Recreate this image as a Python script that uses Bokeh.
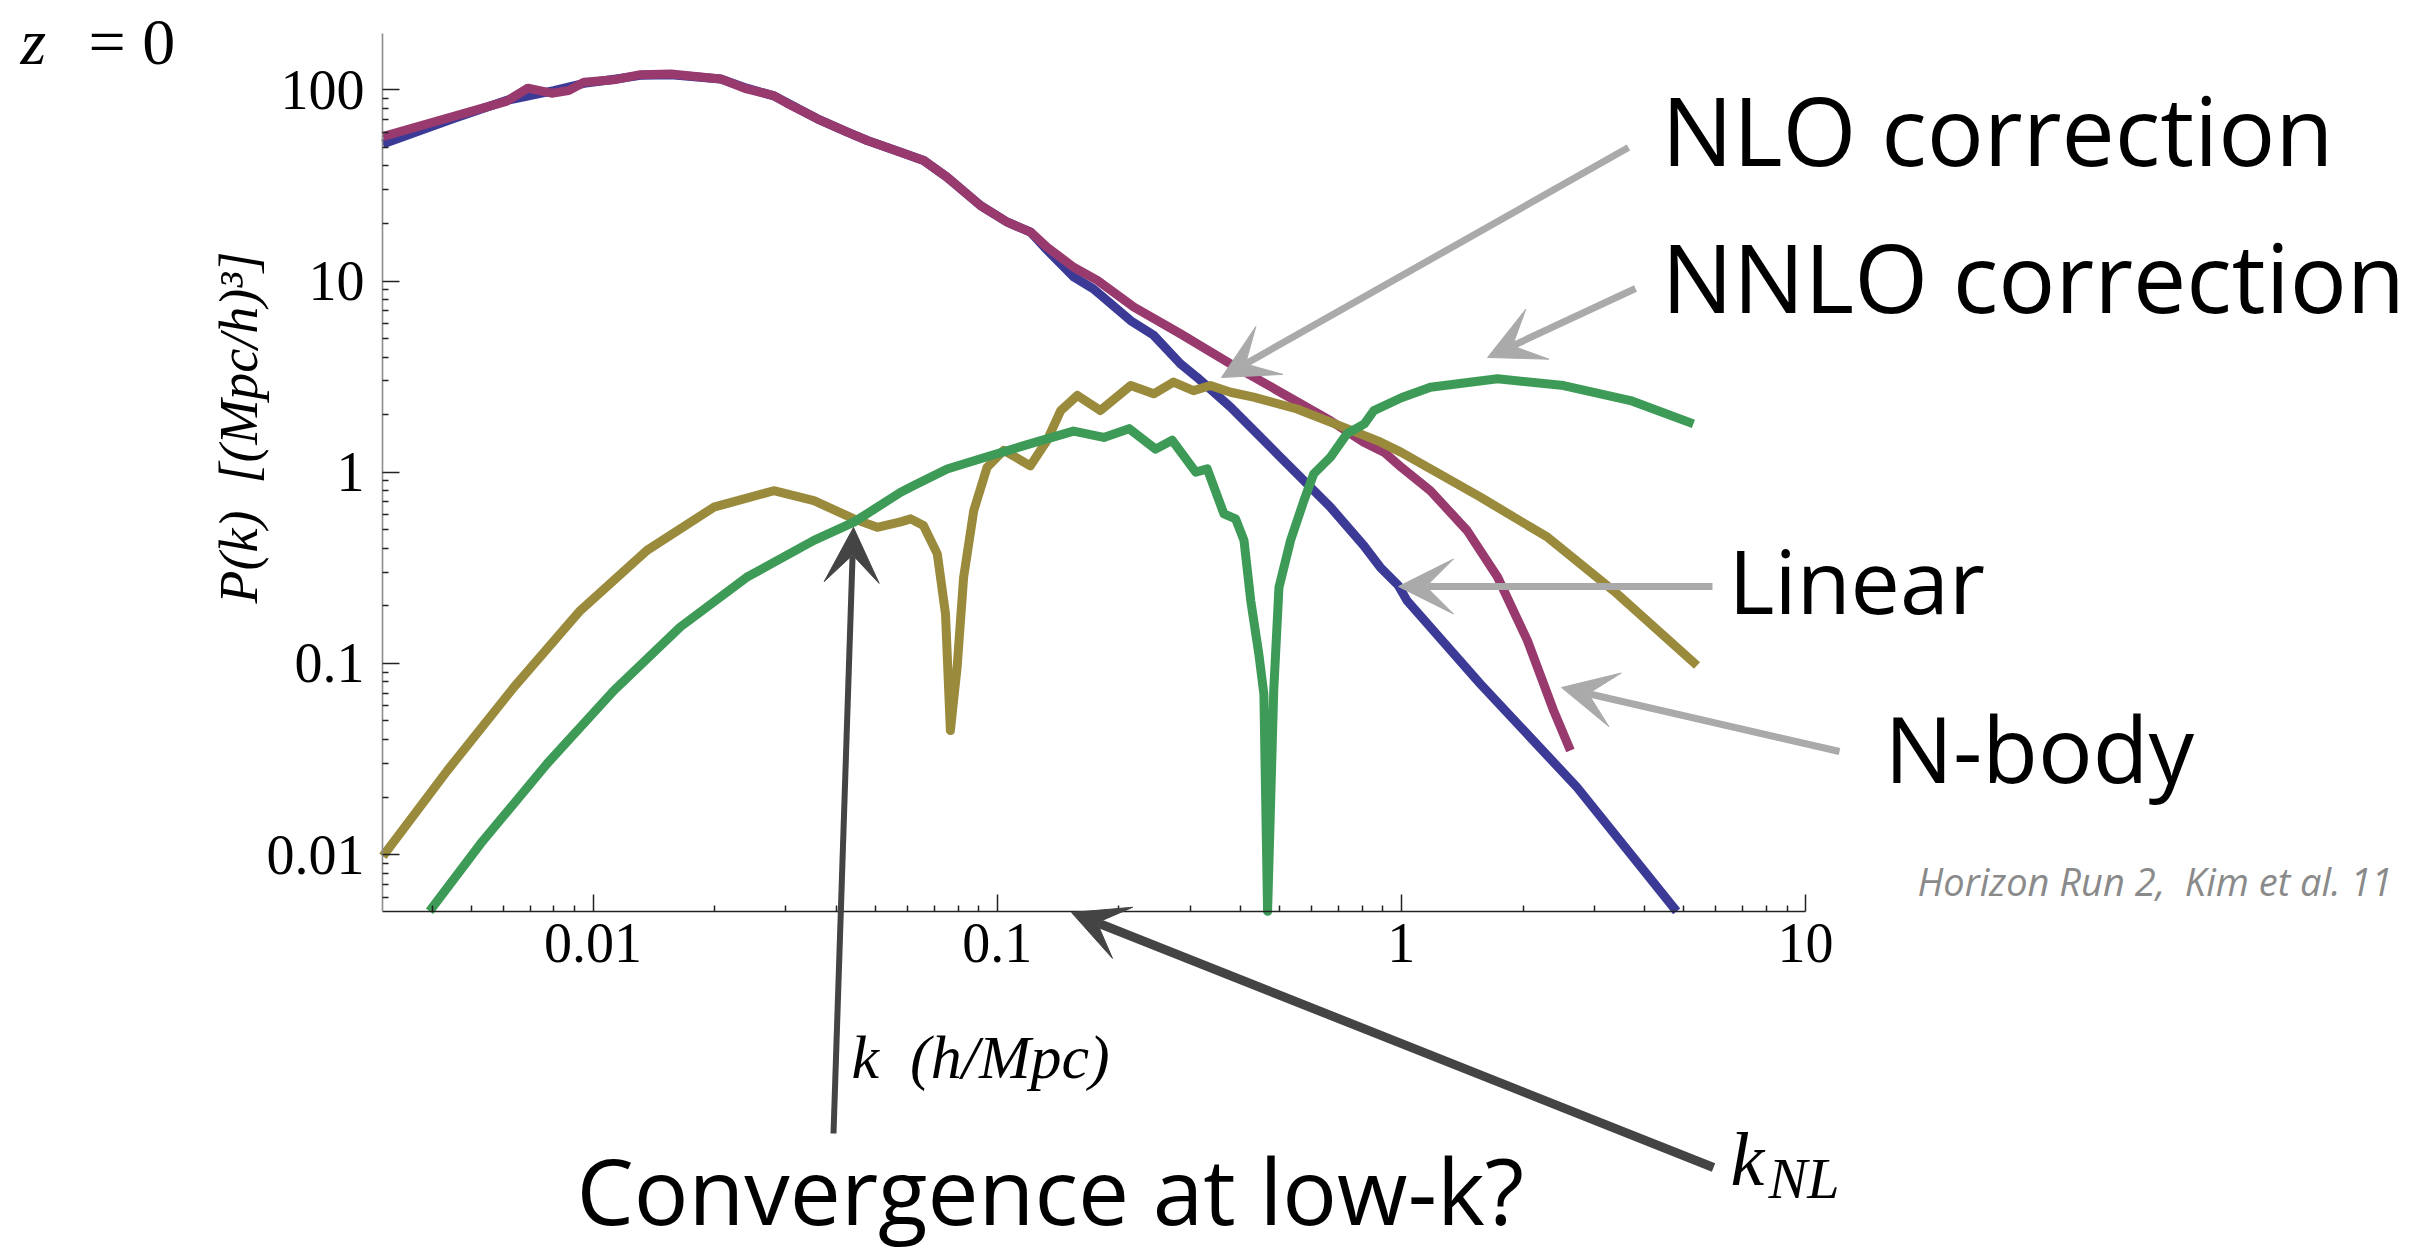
import math

from bokeh.plotting import figure
from bokeh.models import Range1d, FixedTicker, CustomJSTickFormatter, Label, Arrow, VeeHead
from bokeh.embed import file_html
from bokeh.resources import INLINE

# ---- power spectra at z = 0: k in h/Mpc, P(k) in (Mpc/h)^3 ----
k_linear = [0.00302, 0.0045, 0.0061, 0.0080, 0.0095, 0.0113, 0.0131, 0.0156, 0.0207, 0.024,
            0.028, 0.0359, 0.0426, 0.0477, 0.0577, 0.0658, 0.0752, 0.091, 0.106, 0.121,
            0.133, 0.1546, 0.173, 0.214, 0.244, 0.284, 0.312, 0.378, 0.502, 0.668,
            0.807, 0.887, 0.984, 1.033, 1.569, 2.72, 4.80]
p_linear = [52, 70.5, 88, 99, 108, 113.5, 119, 120, 114, 102,
            93, 70.5, 60, 54.3, 47.2, 42.7, 34.9, 24.8, 20.3, 18.0,
            14.5, 10.5, 9.1, 6.2, 5.2, 3.69, 3.14, 2.19, 1.20, 0.656,
            0.414, 0.318, 0.255, 0.213, 0.078, 0.0225, 0.00505]

k_nbody = [0.00302, 0.0061, 0.0069, 0.0079, 0.0087, 0.0095, 0.01125, 0.0131, 0.0156, 0.0207,
           0.024, 0.028, 0.0302, 0.0359, 0.0426, 0.0477, 0.0577, 0.0658, 0.0752, 0.091,
           0.106, 0.121, 0.133, 0.1546, 0.177, 0.218, 0.284, 0.378, 0.502, 0.668,
           0.807, 0.908, 1.0, 1.18, 1.455, 1.73, 2.05, 2.38, 2.62]
p_nbody = [57, 87, 102, 96, 99, 109.6, 112.8, 120, 121, 114,
           101, 93.3, 85.1, 70.5, 60, 54.3, 47.2, 42.7, 34.9, 24.8,
           20.3, 18.0, 15.0, 11.8, 10.07, 7.3, 5.3, 3.69, 2.62, 1.86,
           1.435, 1.27, 1.06, 0.80, 0.495, 0.283, 0.132, 0.0568, 0.035]

k_nlo = [0.00302, 0.00436, 0.00637, 0.0093, 0.0136, 0.0199, 0.028, 0.0352, 0.0442, 0.0505,
         0.0577, 0.0611, 0.0657, 0.0711, 0.0745, 0.0766, 0.0796, 0.0826, 0.0875, 0.0944,
         0.1038, 0.1208, 0.133, 0.1436, 0.158, 0.180, 0.214, 0.244, 0.273, 0.306,
         0.337, 0.378, 0.431, 0.552, 0.734, 0.887, 1.0, 1.57, 2.30, 3.35, 5.39]
p_nlo = [0.0098, 0.0275, 0.075, 0.189, 0.39, 0.656, 0.80, 0.71, 0.57, 0.515,
         0.55, 0.57, 0.526, 0.374, 0.1815, 0.0446, 0.0955, 0.282, 0.63, 1.06,
         1.30, 1.08, 1.47, 2.10, 2.52, 2.10, 2.84, 2.57, 2.96, 2.67,
         2.84, 2.62, 2.47, 2.14, 1.69, 1.44, 1.27, 0.74, 0.457, 0.240, 0.0975]

k_nnlo = [0.00394, 0.00527, 0.0077, 0.01125, 0.01644, 0.024, 0.0352, 0.0442, 0.0577, 0.0622,
          0.0752, 0.0962, 0.121, 0.1545, 0.1835, 0.212, 0.2466, 0.271, 0.31, 0.331,
          0.364, 0.389, 0.408, 0.424, 0.444, 0.457, 0.4667, 0.4834, 0.498, 0.532,
          0.574, 0.607, 0.668, 0.734, 0.81, 0.855, 1.0, 1.18, 1.73, 2.52, 3.69, 5.28]
p_nnlo = [0.00505, 0.0114, 0.0299, 0.072, 0.155, 0.282, 0.44, 0.548, 0.785, 0.851,
          1.04, 1.22, 1.41, 1.64, 1.52, 1.69, 1.32, 1.47, 1.0, 1.04,
          0.605, 0.57, 0.44, 0.213, 0.112, 0.069, 0.00505, 0.0724, 0.25, 0.44,
          0.71, 0.98, 1.20, 1.59, 1.79, 2.10, 2.45, 2.78, 3.08, 2.84, 2.37, 1.79]

x_ticks = [0.01, 0.1, 1, 10]
y_ticks = [0.01, 0.1, 1, 10, 100]

BLUE, PURPLE, OLIVE, GREEN = "#3c3a97", "#993a6e", "#9a8a3c", "#3d9b57"
LIGHT_ARROW, DARK_ARROW = "#aaaaaa", "#444444"

# ---- page geometry: the axes box inside a full-page frame ----
W, H = 2430, 1259
AX_L, AX_R, AX_T, AX_B = 382, 1805, 33, 911
K_MIN, K_MAX = 0.003014, 10.0
P_MIN, P_MAX = 0.00504, 197.0

LX0, LX1 = math.log10(K_MIN), math.log10(K_MAX)
LY0, LY1 = math.log10(P_MIN), math.log10(P_MAX)

# minor ticks at 2..9 x each decade, kept inside the drawn axis span
x_minor = [m * 10.0 ** e for e in range(-3, 1) for m in range(2, 10)
           if K_MIN <= m * 10.0 ** e <= K_MAX]
y_minor = [m * 10.0 ** e for e in range(-3, 3) for m in range(2, 10)
           if P_MIN <= m * 10.0 ** e <= P_MAX]


def kx(px):
    """page pixel column -> k"""
    return 10 ** (LX0 + (px - AX_L) / (AX_R - AX_L) * (LX1 - LX0))


def py(px):
    """page pixel row -> P"""
    return 10 ** (LY1 - (px - AX_T) / (AX_B - AX_T) * (LY1 - LY0))


p = figure(width=W, height=H, x_axis_type="log", y_axis_type="log",
           x_range=Range1d(kx(0), kx(W)), y_range=Range1d(py(H), py(0)),
           output_backend="svg", toolbar_location=None, title=None, min_border=0)
p.outline_line_color = None
p.grid.visible = False
p.background_fill_color = "white"
p.border_fill_color = "white"

# ---- axes, pinned to the corner of the axes box ----
fmt = "return tick.toString();"
xa, ya = p.xaxis[0], p.yaxis[0]
xa.ticker = FixedTicker(ticks=x_ticks, minor_ticks=x_minor)
ya.ticker = FixedTicker(ticks=y_ticks, minor_ticks=y_minor)
xa.fixed_location = P_MIN
xa.bounds = (K_MIN, K_MAX)
ya.fixed_location = K_MIN
ya.bounds = (P_MIN, P_MAX)
for ax in (xa, ya):
    ax.formatter = CustomJSTickFormatter(code=fmt)
    ax.major_tick_in = 17
    ax.major_tick_out = 0
    ax.minor_tick_in = 6
    ax.minor_tick_out = 0
    ax.major_tick_line_color = "#222222"
    ax.minor_tick_line_color = "#222222"
    ax.major_tick_line_width = 1.5
    ax.minor_tick_line_width = 1.5
    ax.major_label_text_font = "Liberation Serif"
    ax.major_label_text_font_size = "56px"
    ax.major_label_text_color = "black"
xa.axis_line_color = "#222222"
xa.axis_line_width = 1.6
ya.axis_line_color = "#8c8c8c"
ya.axis_line_width = 1.6
xa.major_label_standoff = 12
ya.major_label_standoff = 18

# ---- curves ----
for ks, ps, col in ((k_linear, p_linear, BLUE), (k_nbody, p_nbody, PURPLE),
                    (k_nlo, p_nlo, OLIVE), (k_nnlo, p_nnlo, GREEN)):
    p.line(ks, ps, line_color=col, line_width=9, line_join="round")


# ---- annotations (positions given as page pixels: left edge, text baseline) ----
def text(x, y, s, font, size, style="normal", color="black", align="left",
         baseline="alphabetic", angle=0, lift=0.38):
    if baseline == "alphabetic":
        y -= lift * size
    p.add_layout(Label(x=kx(x), y=py(y), text=s, text_font=font,
                       text_font_size=f"{size}px", text_font_style=style,
                       text_color=color, text_align=align, text_baseline=baseline,
                       angle=angle, angle_units="deg"))


def arrow(x0, y0, x1, y1, color, width, head):
    p.add_layout(Arrow(x_start=kx(x0), y_start=py(y0), x_end=kx(x1), y_end=py(y1),
                       line_color=color, line_width=width,
                       end=VeeHead(size=head, fill_color=color, line_color=color,
                                   line_width=1)))


SANS = "Open Sans"
SERIF = "Liberation Serif"
SP = "\u00a0"

text(20, 66, "z", SERIF, 66, style="italic")
text(88, 66, "=" + SP + "0", SERIF, 66)
text(238, 427, "P(k)" + SP + SP + "[(Mpc/h)\u00b3]", SERIF, 54, style="italic",
     align="center", baseline="middle", angle=90)
text(851, 1080, "k" + SP + SP + "(h/Mpc)", SERIF, 62, style="italic")

text(1661, 165, "NLO correction", SANS, 95)
text(1661, 312, "NNLO correction", SANS, 95)
text(1728, 613, "Linear", SANS, 88)
text(1884, 782, "N-body", SANS, 91)
text(576, 1224, "Convergence at low-k?", SANS, 91)
text(1917, 895, "Horizon Run 2," + SP + SP + "Kim et al. 11", SANS, 38, style="italic",
     color="#8a8a8a")
text(1730, 1187, "k", SERIF, 76, style="italic")
text(1768, 1200, "NL", SERIF, 58, style="italic")

arrow(1628, 147, 1221, 377, LIGHT_ARROW, 7, 55)
arrow(1635, 288, 1487, 357, LIGHT_ARROW, 7, 55)
arrow(1712, 586, 1398, 586, LIGHT_ARROW, 7, 55)
arrow(1839, 751, 1561, 687, LIGHT_ARROW, 7, 55)
arrow(833, 1133, 853, 527, DARK_ARROW, 6, 55)
arrow(1713, 1167, 1071, 912, DARK_ARROW, 9, 55)

open("out.html", "w").write(file_html(p, INLINE))
